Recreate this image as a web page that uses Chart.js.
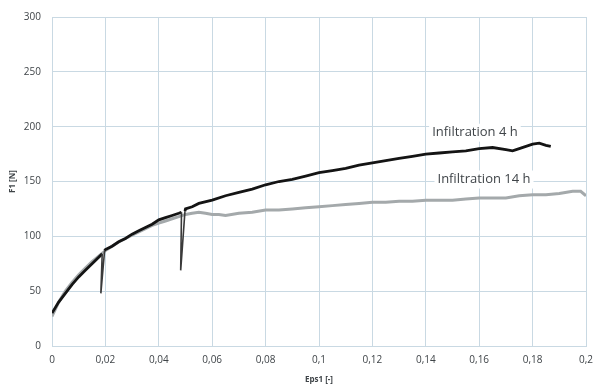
<!DOCTYPE html>
<html lang="en">
<head>
<meta charset="UTF-8">
<title>F1 vs Eps1</title>
<script src="https://cdn.jsdelivr.net/npm/chart.js"></script>
<style>
  html, body { margin: 0; padding: 0; background: #fff; }
  .graph-container { width: 594px; height: 385px; }
</style>
</head>
<body>
<div class="graph-container">
  <canvas id="forceGraph"></canvas>
</div>

<script>
// Eps1 [-] / F1 [N] for the 4 h sample (two unloading dips)
const eps4h = [0, 0.0025, 0.005, 0.0075, 0.01, 0.0125, 0.015, 0.0175, 0.0188, 0.0183, 0.0197, 0.02,
  0.0225, 0.025, 0.0275, 0.03, 0.0325, 0.035, 0.0375, 0.04, 0.0425, 0.045, 0.0475, 0.0485, 0.0482, 0.0498, 0.05,
  0.0525, 0.055, 0.06, 0.065, 0.07, 0.075, 0.08, 0.085, 0.09, 0.095, 0.1, 0.105, 0.11, 0.115, 0.12, 0.125,
  0.13, 0.135, 0.14, 0.145, 0.15, 0.155, 0.16, 0.165, 0.17, 0.1725, 0.175, 0.18, 0.1825, 0.185, 0.1868];
const force4h = [30, 40, 48, 56, 63, 69, 75, 81, 84, 48, 87, 88,
  91, 95, 98, 102, 105, 108, 111, 115, 117, 119, 121, 122, 69, 123, 125,
  127, 130, 133, 137, 140, 143, 147, 150, 152, 155, 158, 160, 162, 165, 167, 169,
  171, 173, 175, 176, 177, 178, 180, 181, 179, 178, 180, 184, 185, 183, 182];

// Eps1 [-] / F1 [N] for the 14 h sample
const eps14h = [0, 0.0025, 0.005, 0.0075, 0.01, 0.0125, 0.015, 0.0175, 0.02, 0.0225, 0.025, 0.0275, 0.03,
  0.0325, 0.035, 0.0375, 0.04, 0.0425, 0.045, 0.0475, 0.05, 0.0525, 0.055, 0.0575, 0.06, 0.0625, 0.065,
  0.07, 0.075, 0.08, 0.085, 0.09, 0.095, 0.1, 0.105, 0.11, 0.115, 0.12, 0.125, 0.13, 0.135, 0.14, 0.145,
  0.15, 0.155, 0.16, 0.165, 0.17, 0.175, 0.18, 0.185, 0.19, 0.195, 0.198, 0.2];
const force14h = [27, 40, 50, 58, 65, 71, 77, 82, 87, 91, 95, 98, 101,
  104, 107, 110, 112, 114, 116, 118, 120, 121, 122, 121, 120, 120, 119,
  121, 122, 124, 124, 125, 126, 127, 128, 129, 130, 131, 131, 132, 132, 133, 133,
  133, 134, 135, 135, 135, 137, 138, 138, 139, 141, 141, 137];

const xTicks = [0, 0.02, 0.04, 0.06, 0.08, 0.1, 0.12, 0.14, 0.16, 0.18, 0.2];
const xTickLabels = ['0', '0,02', '0,04', '0,06', '0,08', '0,1', '0,12', '0,14', '0,16', '0,18', '0,2'];
const yTicks = [0, 50, 100, 150, 200, 250, 300];

// curve labels, placed in data coordinates
const curveLabels = [
  { text: 'Infiltration 4 h', x: 0.1584, y: 194.5 },
  { text: 'Infiltration 14 h', x: 0.1618, y: 151.8 }
];

const toPoints = (xs, ys) => xs.map((x, i) => ({ x: x, y: ys[i] }));

const gridColor = '#c9d9e3';
const textColor = '#3f4448';

// thin stroke for the steep unloading segments
const isDip = ctx => Math.abs(ctx.p1.parsed.y - ctx.p0.parsed.y) > 20;
const dipWidth = ctx => isDip(ctx) ? 1.6 : undefined;
const dipColor = ctx => isDip(ctx) ? '#3a3a3a' : undefined;

const curveLabelPlugin = {
  id: 'curveLabels',
  afterDatasetsDraw(chart) {
    const { ctx, scales } = chart;
    ctx.save();
    ctx.font = '13px "Open Sans"';
    ctx.textAlign = 'center';
    ctx.textBaseline = 'middle';
    curveLabels.forEach(l => {
      const px = scales.x.getPixelForValue(l.x);
      const py = scales.y.getPixelForValue(l.y);
      const w = ctx.measureText(l.text).width + 6;
      ctx.fillStyle = '#ffffff';
      ctx.fillRect(px - w / 2, py - 9, w, 18);
      ctx.fillStyle = textColor;
      ctx.fillText(l.text, px, py);
    });
    ctx.restore();
  }
};

const ctx = document.getElementById('forceGraph').getContext('2d');
new Chart(ctx, {
  type: 'line',
  data: {
    datasets: [{
      label: 'Infiltration 4 h',
      data: toPoints(eps4h, force4h),
      borderColor: '#141414',
      borderWidth: 2.8,
      pointRadius: 0,
      tension: 0,
      segment: { borderWidth: dipWidth, borderColor: dipColor }
    }, {
      label: 'Infiltration 14 h',
      data: toPoints(eps14h, force14h),
      borderColor: '#a4a9ab',
      borderWidth: 3,
      pointRadius: 0,
      tension: 0
    }]
  },
  options: {
    responsive: true,
    maintainAspectRatio: false,
    animation: false,
    layout: { padding: { top: 14, right: 0, left: 0, bottom: 0 } },
    plugins: {
      legend: { display: false },
      tooltip: { enabled: false }
    },
    scales: {
      x: {
        type: 'linear',
        min: 0,
        max: 0.2,
        afterBuildTicks: s => { s.ticks = xTicks.map(v => ({ value: v })); },
        afterFit: s => { s.height = 39; s.paddingRight = 8; },
        grid: { color: gridColor, drawTicks: false },
        border: { color: gridColor },
        ticks: {
          padding: 8,
          color: textColor,
          font: { family: 'Open Sans', size: 10 },
          callback: (v, i) => xTickLabels[i]
        },
        title: {
          display: true,
          text: 'Eps1 [-]',
          color: textColor,
          font: { family: 'Open Sans', size: 8, weight: 'bold' },
          padding: { top: 1, bottom: 0 }
        }
      },
      y: {
        min: 0,
        max: 300,
        afterBuildTicks: s => { s.ticks = yTicks.map(v => ({ value: v })); },
        afterFit: s => { s.width = 52; },
        grid: { color: gridColor, drawTicks: false },
        border: { color: gridColor },
        ticks: {
          padding: 11,
          color: textColor,
          font: { family: 'Open Sans', size: 10 }
        },
        title: {
          display: true,
          text: 'F1 [N]',
          color: textColor,
          font: { family: 'Open Sans', size: 8, weight: 'bold' },
          padding: { top: 8, bottom: 0 }
        }
      }
    }
  },
  plugins: [curveLabelPlugin]
});
</script>
</body>
</html>
